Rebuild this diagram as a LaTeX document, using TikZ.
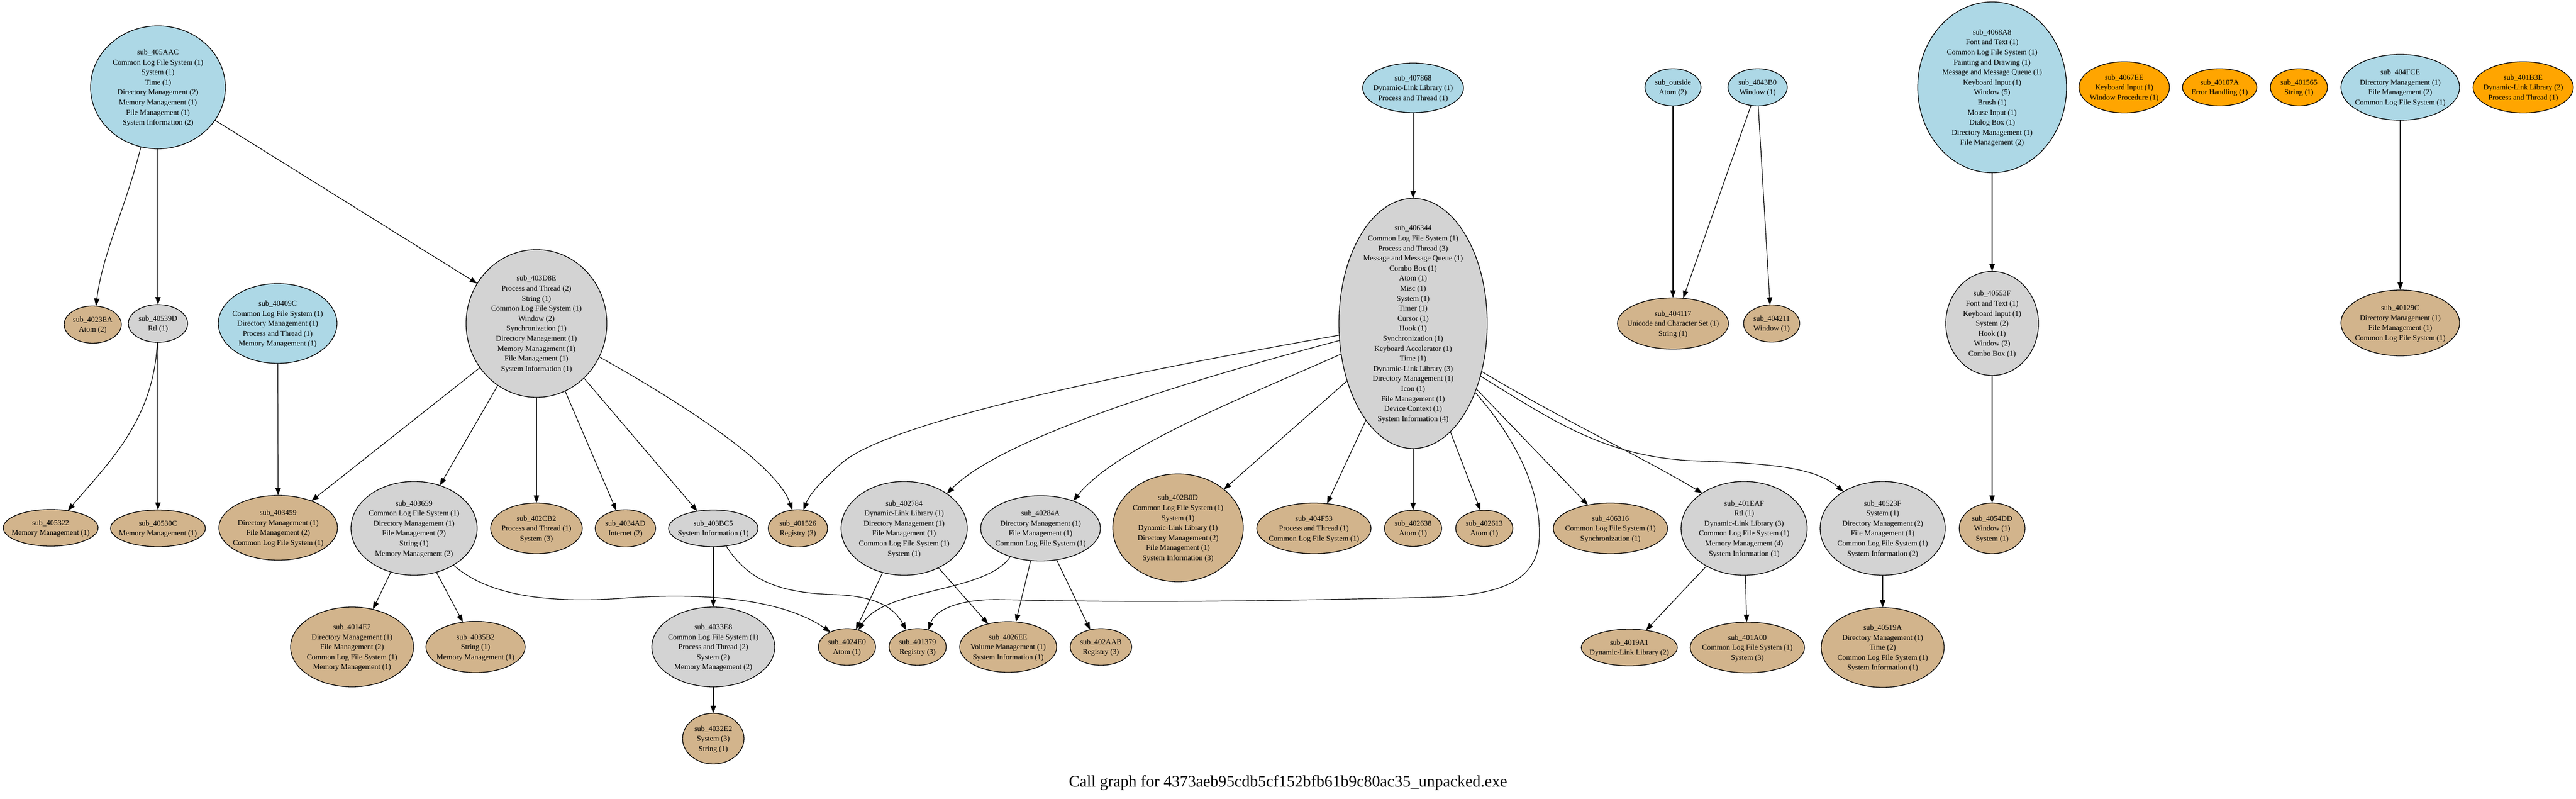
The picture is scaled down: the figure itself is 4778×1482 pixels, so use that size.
\documentclass[tikz,border=0pt]{standalone}
\usepackage{fontspec}
\setmainfont{Liberation Serif}
\usetikzlibrary{shapes.geometric,arrows.meta}
\definecolor{gvblue}{HTML}{ADD8E6}
\definecolor{gvgray}{HTML}{D3D3D3}
\definecolor{gvtan}{HTML}{D2B48C}
\definecolor{gvorange}{HTML}{FFA500}
\newcommand\lb[1]{\makebox[0pt]{\smash{\raisebox{-4.5pt}{\begin{tabular}{@{}c@{}}#1\end{tabular}}}}}
\begin{document}
\begin{tikzpicture}[x=1pt,y=-1pt,
  fn/.style={ellipse,draw,line width=1.3pt,inner sep=0pt,outer sep=0pt,font=\fontsize{14pt}{18.6pt}\selectfont},
  fnblue/.style={fn,fill=gvblue},
  fngray/.style={fn,fill=gvgray},
  fntan/.style={fn,fill=gvtan},
  fnorange/.style={fn,fill=gvorange},
  sz/.style 2 args={minimum width=#1pt,minimum height=#2pt},
  call/.style={line width=1.2pt,-{Triangle[length=14pt,width=10pt]}}]
\useasboundingbox (0,0) rectangle (4778,1482);
\fill[white] (0,0) rectangle (4778,1482);
% ---------- top row
\node[fnblue,sz={250}{228}] (n405AAC) at (293,162) {\lb{sub\_405AAC\\Common Log File System (1)\\System (1)\\Time (1)\\Directory Management (2)\\Memory Management (1)\\File Management (1)\\System Information (2)}};
\node[fnblue,sz={187}{92}] (n407868) at (2621,163) {\lb{sub\_407868\\Dynamic-Link Library (1)\\Process and Thread (1)}};
\node[fnblue,sz={104}{69}] (noutside) at (3103,162) {\lb{sub\_outside\\Atom (2)}};
\node[fnblue,sz={110}{69}] (n4043B0) at (3260,162) {\lb{sub\_4043B0\\Window (1)}};
\node[fnblue,sz={276}{317}] (n4068A8) at (3695,162) {\lb{sub\_4068A8\\Font and Text (1)\\Common Log File System (1)\\Painting and Drawing (1)\\Message and Message Queue (1)\\Keyboard Input (1)\\Window (5)\\Brush (1)\\Mouse Input (1)\\Dialog Box (1)\\Directory Management (1)\\File Management (2)}};
\node[fnorange,sz={168}{95}] (n4067EE) at (3940,162) {\lb{sub\_4067EE\\Keyboard Input (1)\\Window Procedure (1)}};
\node[fnorange,sz={138}{69}] (n40107A) at (4117,162) {\lb{sub\_40107A\\Error Handling (1)}};
\node[fnorange,sz={106}{69}] (n401565) at (4264,162) {\lb{sub\_401565\\String (1)}};
\node[fnblue,sz={220}{122}] (n404FCE) at (4452,162) {\lb{sub\_404FCE\\Directory Management (1)\\File Management (2)\\Common Log File System (1)}};
\node[fnorange,sz={186}{95}] (n401B3E) at (4680,162) {\lb{sub\_401B3E\\Dynamic-Link Library (2)\\Process and Thread (1)}};
% ---------- second row
\node[fntan,sz={106}{69}] (n4023EA) at (172,602) {\lb{sub\_4023EA\\Atom (2)}};
\node[fngray,sz={110}{70}] (n40539D) at (293,600) {\lb{sub\_40539D\\Rtl (1)}};
\node[fnblue,sz={220}{148}] (n40409C) at (515,600) {\lb{sub\_40409C\\Common Log File System (1)\\Directory Management (1)\\Process and Thread (1)\\Memory Management (1)}};
\node[fngray,sz={261}{274}] (n403D8E) at (995,600) {\lb{sub\_403D8E\\Process and Thread (2)\\String (1)\\Common Log File System (1)\\Window (2)\\Synchronization (1)\\Directory Management (1)\\Memory Management (1)\\File Management (1)\\System Information (1)}};
\node[fngray,sz={275}{464}] (n406344) at (2621,600) {\lb{sub\_406344\\Common Log File System (1)\\Process and Thread (3)\\Message and Message Queue (1)\\Combo Box (1)\\Atom (1)\\Misc (1)\\System (1)\\Timer (1)\\Cursor (1)\\Hook (1)\\Synchronization (1)\\Keyboard Accelerator (1)\\Time (1)\\Dynamic-Link Library (3)\\Directory Management (1)\\Icon (1)\\File Management (1)\\Device Context (1)\\System Information (4)}};
\node[fntan,sz={206}{95}] (n404117) at (3103,600) {\lb{sub\_404117\\Unicode and Character Set (1)\\String (1)}};
\node[fntan,sz={104}{69}] (n404211) at (3286,600) {\lb{sub\_404211\\Window (1)}};
\node[fngray,sz={172}{193}] (n40553F) at (3695,600) {\lb{sub\_40553F\\Font and Text (1)\\Keyboard Input (1)\\System (2)\\Hook (1)\\Window (2)\\Combo Box (1)}};
\node[fntan,sz={220}{122}] (n40129C) at (4452,599) {\lb{sub\_40129C\\Directory Management (1)\\File Management (1)\\Common Log File System (1)}};
% ---------- third row
\node[fntan,sz={176}{68}] (n405322) at (94,979) {\lb{sub\_405322\\Memory Management (1)}};
\node[fntan,sz={176}{68}] (n40530C) at (293,980) {\lb{sub\_40530C\\Memory Management (1)}};
\node[fntan,sz={220}{120}] (n403459) at (516,979) {\lb{sub\_403459\\Directory Management (1)\\File Management (2)\\Common Log File System (1)}};
\node[fngray,sz={234}{174}] (n403659) at (768,980) {\lb{sub\_403659\\Common Log File System (1)\\Directory Management (1)\\File Management (2)\\String (1)\\Memory Management (2)}};
\node[fntan,sz={170}{94}] (n402CB2) at (995,980) {\lb{sub\_402CB2\\Process and Thread (1)\\System (3)}};
\node[fntan,sz={112}{69}] (n4034AD) at (1160,980) {\lb{sub\_4034AD\\Internet (2)}};
\node[fngray,sz={166}{68}] (n403BC5) at (1323,980) {\lb{sub\_403BC5\\System Information (1)}};
\node[fntan,sz={110}{69}] (n401526) at (1480,980) {\lb{sub\_401526\\Registry (3)}};
\node[fngray,sz={234}{174}] (n402784) at (1677,980) {\lb{sub\_402784\\Dynamic-Link Library (1)\\Directory Management (1)\\File Management (1)\\Common Log File System (1)\\System (1)}};
\node[fngray,sz={222}{121}] (n40284A) at (1930,980) {\lb{sub\_40284A\\Directory Management (1)\\File Management (1)\\Common Log File System (1)}};
\node[fntan,sz={242}{200}] (n402B0D) at (2185,979) {\lb{sub\_402B0D\\Common Log File System (1)\\System (1)\\Dynamic-Link Library (1)\\Directory Management (2)\\File Management (1)\\System Information (3)}};
\node[fntan,sz={212}{94}] (n404F53) at (2437,980) {\lb{sub\_404F53\\Process and Thread (1)\\Common Log File System (1)}};
\node[fntan,sz={106}{67}] (n402638) at (2621,980) {\lb{sub\_402638\\Atom (1)}};
\node[fntan,sz={106}{67}] (n402613) at (2753,980) {\lb{sub\_402613\\Atom (1)}};
\node[fntan,sz={212}{94}] (n406316) at (2987,980) {\lb{sub\_406316\\Common Log File System (1)\\Synchronization (1)}};
\node[fngray,sz={234}{174}] (n401EAF) at (3235,980) {\lb{sub\_401EAF\\Rtl (1)\\Dynamic-Link Library (3)\\Common Log File System (1)\\Memory Management (4)\\System Information (1)}};
\node[fngray,sz={232}{174}] (n40523F) at (3492,980) {\lb{sub\_40523F\\System (1)\\Directory Management (2)\\File Management (1)\\Common Log File System (1)\\System Information (2)}};
\node[fntan,sz={122}{94}] (n4054DD) at (3695,980) {\lb{sub\_4054DD\\Window (1)\\System (1)}};
% ---------- fourth row
\node[fntan,sz={228}{148}] (n4014E2) at (653,1200) {\lb{sub\_4014E2\\Directory Management (1)\\File Management (2)\\Common Log File System (1)\\Memory Management (1)}};
\node[fntan,sz={184}{95}] (n4035B2) at (882,1200) {\lb{sub\_4035B2\\String (1)\\Memory Management (1)}};
\node[fngray,sz={228}{148}] (n4033E8) at (1323,1200) {\lb{sub\_4033E8\\Common Log File System (1)\\Process and Thread (2)\\System (2)\\Memory Management (2)}};
\node[fntan,sz={106}{68}] (n4024E0) at (1571,1200) {\lb{sub\_4024E0\\Atom (1)}};
\node[fntan,sz={106}{68}] (n401379) at (1702,1200) {\lb{sub\_401379\\Registry (3)}};
\node[fntan,sz={180}{94}] (n4026EE) at (1870,1200) {\lb{sub\_4026EE\\Volume Management (1)\\System Information (1)}};
\node[fntan,sz={114}{68}] (n402AAB) at (2042,1200) {\lb{sub\_402AAB\\Registry (3)}};
\node[fntan,sz={178}{68}] (n4019A1) at (3022,1201) {\lb{sub\_4019A1\\Dynamic-Link Library (2)}};
\node[fntan,sz={212}{94}] (n401A00) at (3241,1201) {\lb{sub\_401A00\\Common Log File System (1)\\System (3)}};
\node[fntan,sz={228}{148}] (n40519A) at (3492,1201) {\lb{sub\_40519A\\Directory Management (1)\\Time (2)\\Common Log File System (1)\\System Information (1)}};
% ---------- fifth row
\node[fntan,sz={114}{94}] (n4032E2) at (1323,1370) {\lb{sub\_4032E2\\System (3)\\String (1)}};
% ---------- title
\node[font=\fontsize{30pt}{36pt}\selectfont,inner sep=0pt] (title) at (2389,1452) {Call graph for 4373aeb95cdb5cf152bfb61b9c80ac35\_unpacked.exe};
% ---------- edges
\draw[call] (n405AAC) -- (n40539D);
\draw[call] (n405AAC.254) .. controls (235,380) and (190,470) .. (n4023EA.80);
\draw[call] (n405AAC.-30) -- (n403D8E.146);
\draw[call] (n40539D) -- (n40530C);
\draw[call] (n40539D.-92) .. controls (285,780) and (200,860) .. (n405322.45);
\draw[call] (n40409C) -- (n403459);
\draw[call] (n403D8E.218) -- (n403459.39);
\draw[call] (n403D8E.238) -- (n403659.59);
\draw[call] (n403D8E) -- (n402CB2);
\draw[call] (n403D8E.-67) -- (n4034AD.117);
\draw[call] (n403D8E.-49) -- (n403BC5.133);
\draw[call] (n403D8E.-28) .. controls (1260,745) and (1440,860) .. (n401526.107);
\draw[call] (n403659.-118) -- (n4014E2.61);
\draw[call] (n403659.-63) -- (n4035B2.117);
\draw[call] (n403659.-43) .. controls (900,1100) and (1000,1120) .. (1150,1110) .. controls (1300,1098) and (1450,1110) .. (n4024E0.138);
\draw[call] (n403BC5) -- (n4033E8);
\draw[call] (n403BC5.-54) .. controls (1390,1080) and (1450,1100) .. (1550,1103) .. controls (1630,1106) and (1660,1130) .. (n401379.124);
\draw[call] (n4033E8) -- (n4032E2);
\draw[call] (n407868) -- (n406344);
\draw[call] (n406344.189) .. controls (2100,690) and (1650,780) .. (1560,860) .. controls (1520,895) and (1500,920) .. (n401526.73);
\draw[call] (n406344.193) .. controls (2150,720) and (1850,820) .. (n402784.39);
\draw[call] (n406344.203) .. controls (2300,740) and (2070,830) .. (n40284A.40);
\draw[call] (n406344.221) -- (n402B0D.40);
\draw[call] (n406344.244) -- (n404F53.62);
\draw[call] (n406344) -- (n402638);
\draw[call] (n406344.-71) -- (n402613.102);
\draw[call] (n406344.-46) -- (n406316.134);
\draw[call] (n406344.-48) .. controls (2800,800) and (2860,900) .. (2855,1000) .. controls (2850,1080) and (2780,1105) .. (2650,1108) .. controls (2300,1116) and (2100,1118) .. (1850,1112) .. controls (1780,1112) and (1735,1130) .. (n401379.58);
\draw[call] (n406344.-35) .. controls (2900,780) and (3050,850) .. (n401EAF.140);
\draw[call] (n406344.-38) .. controls (2880,780) and (2980,850) .. (3150,855) .. controls (3300,860) and (3370,870) .. (n40523F.137);
\draw[call] (n402784.-116) -- (n4024E0.63);
\draw[call] (n402784.-49) -- (n4026EE.131);
\draw[call] (n40284A.-137) .. controls (1830,1100) and (1640,1090) .. (n4024E0.56);
\draw[call] (n40284A.-107) -- (n4026EE.73);
\draw[call] (n40284A.-63) -- (n402AAB.122);
\draw[call] (noutside) -- (n404117);
\draw[call] (n4043B0.-110) -- (n404117.68);
\draw[call] (n4043B0.-88) -- (n404211.95);
\draw[call] (n4068A8) -- (n40553F);
\draw[call] (n40553F) -- (n4054DD);
\draw[call] (n404FCE) -- (n40129C);
\draw[call] (n401EAF.-135) -- (n4019A1.46);
\draw[call] (n401EAF) -- (n401A00);
\draw[call] (n40523F) -- (n40519A);
\end{tikzpicture}
\end{document}
